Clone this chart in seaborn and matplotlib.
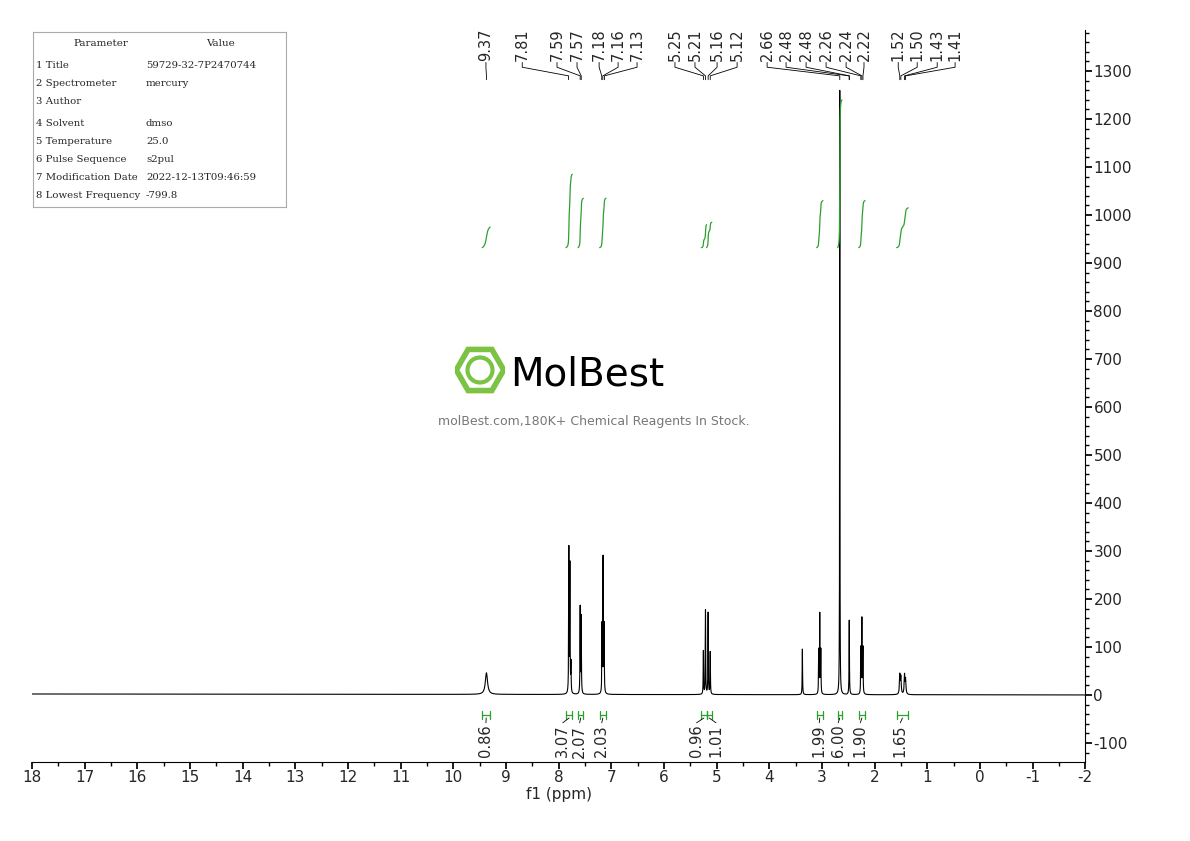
import numpy as np
import matplotlib
matplotlib.use("Agg")
import matplotlib.pyplot as plt
import seaborn as sns
from matplotlib.patches import Circle, RegularPolygon

sns.set_theme(style="white")
plt.rcParams['font.family'] = ['DejaVu Sans']
plt.rcParams['axes.unicode_minus'] = False

# ---- data ----
peak_ppm = [9.37, 7.805, 7.785, 7.765, 7.59, 7.57, 7.175, 7.155, 7.135,
            5.25, 5.21, 5.16, 5.12, 3.37, 3.06, 3.04, 3.02, 2.66, 2.48,
            2.26, 2.24, 2.22, 1.52, 1.50, 1.43, 1.41]
peak_height = [45, 300, 265, 60, 180, 160, 140, 280, 140,
               90, 175, 170, 88, 95, 90, 165, 90, 1260, 155,
               95, 155, 95, 40, 35, 40, 30]
peak_width = [0.025, 0.004, 0.004, 0.004, 0.004, 0.004, 0.004, 0.004, 0.004,
              0.004, 0.004, 0.004, 0.004, 0.004, 0.004, 0.004, 0.004, 0.003, 0.004,
              0.004, 0.004, 0.004, 0.008, 0.008, 0.008, 0.008]

shift_labels = ["9.37", "7.81", "7.59", "7.57", "7.18", "7.16", "7.13",
                "5.25", "5.21", "5.16", "5.12", "2.66", "2.48", "2.48",
                "2.26", "2.24", "2.22", "1.52", "1.50", "1.43", "1.41"]
shift_label_pos = [9.38, 8.69, 8.03, 7.65, 7.23, 6.87, 6.51,
                   5.79, 5.41, 4.99, 4.61, 4.04, 3.68, 3.30,
                   2.92, 2.54, 2.20, 1.55, 1.19, 0.81, 0.47]
shift_peak = [9.37, 7.81, 7.59, 7.57, 7.18, 7.16, 7.13,
              5.25, 5.21, 5.16, 5.12, 2.66, 2.48, 2.48,
              2.26, 2.24, 2.22, 1.52, 1.50, 1.43, 1.41]

integ_ranges = [(9.45, 9.30), (7.86, 7.74), (7.63, 7.53), (7.22, 7.10),
                (5.29, 5.19), (5.19, 5.09), (3.10, 2.98), (2.70, 2.62),
                (2.30, 2.18), (1.58, 1.36)]
integ_top = [975, 1085, 1035, 1035, 980, 985, 1030, 1240, 1030, 1015]
integ_vals = ["0.86", "3.07", "2.07", "2.03", "0.96", "1.01", "1.99", "6.00", "1.90", "1.65"]
integ_label_pos = [9.38, 7.92, 7.60, 7.18, 5.38, 5.01, 3.05, 2.69, 2.27, 1.51]

# ---- spectrum ----
x = np.linspace(18, -2, 60000)
y = np.zeros_like(x)
for p, h, w in zip(peak_ppm, peak_height, peak_width):
    y += h * w**2 / ((x - p)**2 + w**2)
y += 2.0 * (x - (-2)) / 20  # slight baseline drift

fig = plt.figure(figsize=(11.9, 8.41), dpi=100)
ax = fig.add_axes([0.0269, 0.094, 0.885, 0.870])
sns.lineplot(x=x, y=y, ax=ax, color="black", linewidth=0.8)
ax.set_xlim(18, -2)
ax.set_ylim(-139.6, 1385)

green = "#2ca02c"
for (a, b), top, lab, lp in zip(integ_ranges, integ_top, integ_vals, integ_label_pos):
    m = (x <= a) & (x >= b)
    c = np.cumsum(y[m]); c = (c - c[0]) / (c[-1] - c[0])
    ax.plot(x[m], 932 + c * (top - 932), color=green, lw=0.9)
    ax.plot([a, b], [-42, -42], color=green, lw=0.9)
    ax.plot([a, a], [-34, -50], color=green, lw=0.9)
    ax.plot([b, b], [-34, -50], color=green, lw=0.9)
    mid = (a + b) / 2
    ax.plot([mid, lp], [-48, -58], color="black", lw=0.6)
    ax.text(lp, -62, lab, rotation=90, ha="center", va="top", fontsize=10.5)

for lab, lp, pk in zip(shift_labels, shift_label_pos, shift_peak):
    ax.text(lp, 1322, lab, rotation=90, ha="center", va="bottom", fontsize=10.5)
    ax.plot([lp, lp, pk, pk], [1318, 1308, 1290, 1282], color="black", lw=0.6)

for s in ["left", "top"]:
    ax.spines[s].set_visible(False)
for s in ["right", "bottom"]:
    ax.spines[s].set_color("black"); ax.spines[s].set_linewidth(0.8)
ax.yaxis.tick_right()
ax.set_yticks(np.arange(-100, 1301, 100))
ax.set_yticks(np.arange(-120, 1381, 20), minor=True)
ax.set_xticks(np.arange(18, -3, -1))
ax.set_xticklabels([str(v) for v in range(18, -3, -1)])
ax.set_xticks(np.arange(18, -2.01, -0.5), minor=True)
ax.tick_params(axis="both", which="major", direction="out", length=5, labelsize=11,
               bottom=True, right=True, left=False, color="black", pad=1)
ax.tick_params(axis="both", which="minor", direction="out", length=3,
               bottom=True, right=True, left=False, color="black")
ax.set_xlabel("f1 (ppm)", fontsize=11, labelpad=1)

params = [("1 Title", "59729-32-7P2470744"), ("2 Spectrometer", "mercury"),
          ("3 Author", ""), ("4 Solvent", "dmso"), ("5 Temperature", "25.0"),
          ("6 Pulse Sequence", "s2pul"), ("7 Modification Date", "2022-12-13T09:46:59"),
          ("8 Lowest Frequency", "-799.8")]
tb = fig.add_axes([33/1190, 1 - 207/841, 253/1190, 175/841])
tb.set_xlim(0, 253); tb.set_ylim(175, 0)
tb.set_xticks([]); tb.set_yticks([])
for s in tb.spines.values():
    s.set_color("#aaaaaa"); s.set_linewidth(0.8)
tb.text(68, 11, "Parameter", ha="center", va="center", fontsize=7.5, family="DejaVu Serif")
tb.text(187, 11, "Value", ha="center", va="center", fontsize=7.5, family="DejaVu Serif")
ys = [33, 51, 69, 91, 109, 127, 145, 163]
for (k, v), yy in zip(params, ys):
    tb.text(3, yy, k, va="center", fontsize=7.3, family="DejaVu Serif")
    tb.text(113, yy, v, va="center", fontsize=7.3, family="DejaVu Serif")

fig.text(510/1190, 1 - 374/841, "MolBest", fontsize=28, va="center", ha="left",
         family="DejaVu Sans", color="black")
wl = fig.add_axes([452/1190, 1 - 395/841, 56/1190, 50/841])
wl.set_xlim(-1, 1); wl.set_ylim(-1, 1); wl.set_aspect("equal"); wl.axis("off")
wl.add_patch(RegularPolygon((0, 0), 6, radius=0.95, orientation=np.pi/6,
                            fill=False, ec="#7cc243", lw=4))
wl.add_patch(Circle((0, 0), 0.5, fill=False, ec="#7cc243", lw=3))
fig.text(594/1190, 1 - 421/841, "molBest.com,180K+ Chemical Reagents In Stock.",
         fontsize=9, color="#777777", ha="center", va="center")

fig.savefig("out.png", dpi=100)
